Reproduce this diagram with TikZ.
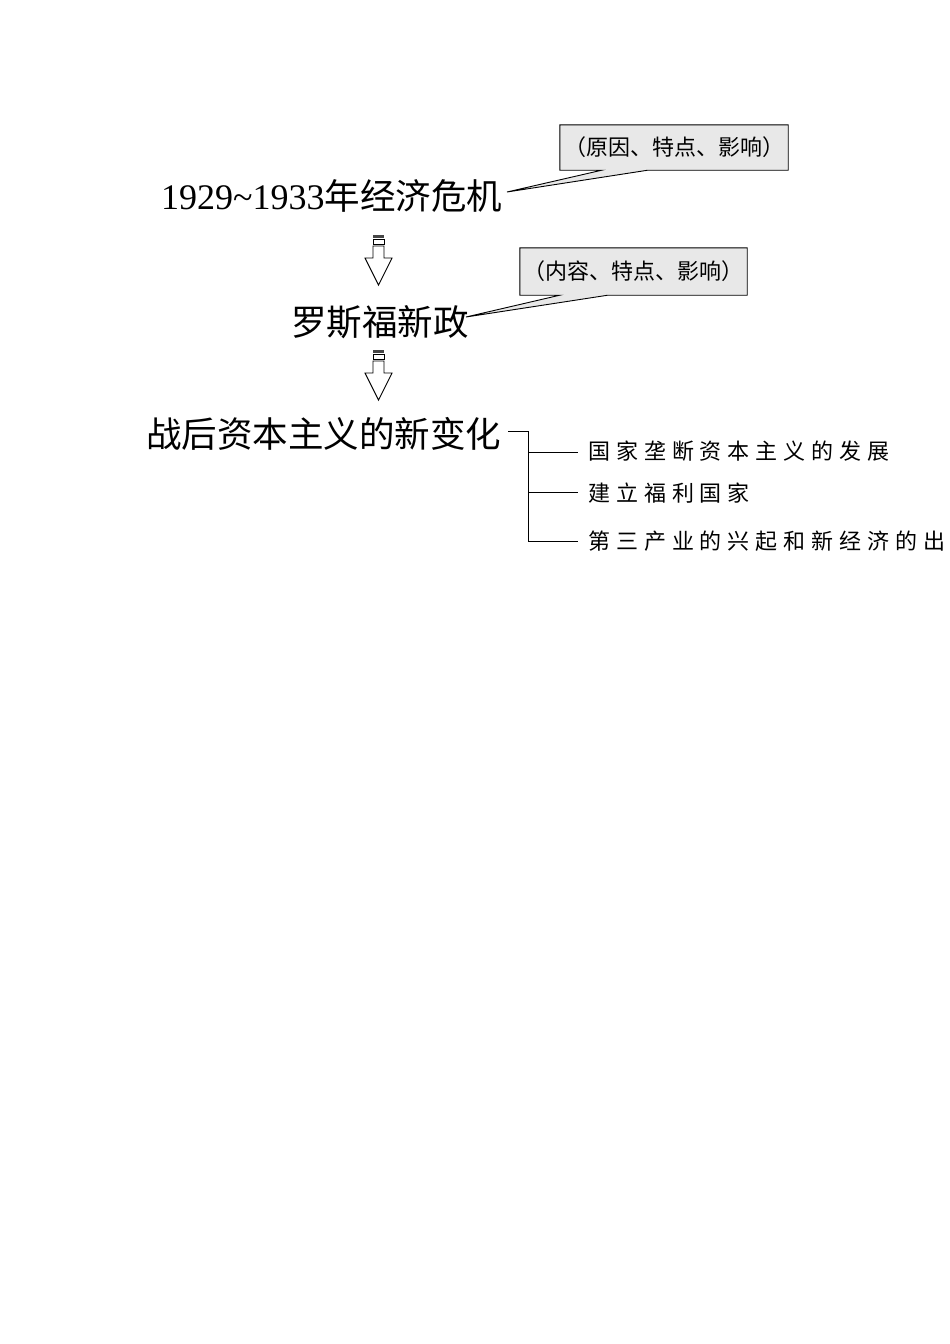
\documentclass[tikz,border=0pt]{standalone}
\usepackage{fontspec}
\setmainfont{Liberation Serif}
\newfontfamily\cjk{Noto Sans CJK SC}
\newfontfamily\cjksp[LetterSpace=27]{Noto Sans CJK SC}
\usetikzlibrary{calc,backgrounds}
\definecolor{boxgray}{RGB}{232,232,232}
\definecolor{bargray}{RGB}{70,70,70}
\tikzset{
  maintext/.style={anchor=base west, inner sep=0pt, font=\fontsize{35.5}{40}\selectfont},
  subtext/.style={anchor=base west, inner sep=0pt, font=\cjksp\fontsize{22}{26}\selectfont},
  calltext/.style={inner sep=0pt, font=\cjk\fontsize{22}{26}\selectfont},
  callshape/.style={fill=boxgray, draw=black, line width=0.9pt, line join=miter},
  bracket/.style={draw=black, line width=1.1pt},
  downarr/.pic={
    \fill[bargray] (-5.5,0) rectangle (5.5,3);
    \draw[line width=0.8pt] (-5.5,4.5) rectangle (5.5,9.5);
    \draw[line width=0.9pt, line join=miter] (-5.5,11) -- (-5.5,23) -- (-13.5,23) -- (0,50) -- (13.5,23) -- (5.5,23) -- (5.5,11) -- cycle;
  }
}
\begin{document}
\begin{tikzpicture}[x=1pt,y=-1pt]
\useasboundingbox (0,0) rectangle (950,1344);

% main texts
\node[maintext] (t1) at (161,209.5) {\fontsize{36}{40}\selectfont 1929\textasciitilde 1933{\cjk\fontsize{35.5}{40}\selectfont 年经济危机}};
\node[maintext] (t2) at (291,335.5) {\cjk 罗斯福新政};
\node[maintext] (t3) at (146,447) {\cjk 战后资本主义的新变化};

% callouts
\node[calltext, minimum width=228pt, minimum height=45pt] (c1) at (674,147.5) {（原因、特点、影响）};
\node[calltext, minimum width=227pt, minimum height=47pt] (c2) at (633.5,271.5) {（内容、特点、影响）};
\coordinate (tip1) at (507,192);
\coordinate (tip2) at (466,317);
\begin{pgfonlayer}{background}
\fill[white] (0,0) rectangle (950,1344);
\path[callshape] (c1.north west) -- (c1.north east) -- (c1.south east) -- ($(c1.south west)+(88,0)$) -- (tip1) -- ($(c1.south west)+(42,0)$) -- (c1.south west) -- cycle;
\path[callshape] (c2.north west) -- (c2.north east) -- (c2.south east) -- ($(c2.south west)+(88,0)$) -- (tip2) -- ($(c2.south west)+(40,0)$) -- (c2.south west) -- cycle;
\end{pgfonlayer}

% arrows
\pic at (378.5,235) {downarr};
\pic at (378.5,350) {downarr};

% sub items
\node[subtext] (s1) at (588,459.5) {国家垄断资本主义的发展};
\node[subtext] (s2) at (588,501.5) {建立福利国家};
\node[subtext] (s3) at (588,549.5) {第三产业的兴起和新经济的出};

% bracket
\coordinate (b0) at (508,431.7);
\coordinate (bx) at (528.3,431.7);
\coordinate (e1) at (578,452.3);
\coordinate (e2) at (578,492.7);
\coordinate (e3) at (578,541.7);
\draw[bracket] (b0) -- (bx) -- (bx |- e3) -- (e3);
\draw[bracket] (bx |- e1) -- (e1);
\draw[bracket] (bx |- e2) -- (e2);
\end{tikzpicture}
\end{document}
